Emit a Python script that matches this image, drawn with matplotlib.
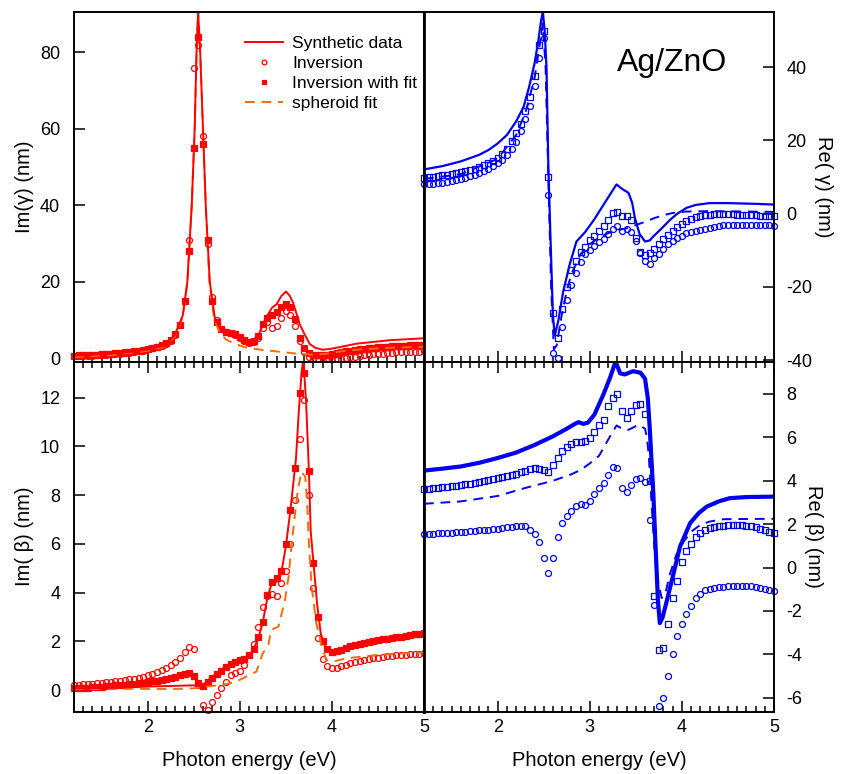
import numpy as np
import matplotlib.pyplot as plt
from matplotlib.ticker import MultipleLocator

plt.rcParams['font.family'] = ['Liberation Sans', 'DejaVu Sans']
plt.rcParams['axes.unicode_minus'] = False

# photon energy grid of the inversion points (eV)
energy = np.round(np.arange(1.2, 5.0001, 0.05), 2)

# ---- Im(gamma), nm ----
im_g_inv = [0.6, 0.65, 0.7, 0.75, 0.8, 0.85, 0.9, 1.0, 1.1, 1.2,
            1.3, 1.4, 1.55, 1.7, 1.9, 2.1, 2.4, 2.7, 3.0, 3.4,
            3.9, 4.7, 6.2, 8.9, 15.0, 31.0, 76.0, 82.0, 58.0, 30.0,
            16.0, 10.0, 7.8, 7.0, 6.6, 6.1, 5.4, 4.6, 4.1, 4.3,
            5.5, 8.0, 9.5, 8.0, 8.6, 10.5, 12.3, 11.5, 8.6, 4.5,
            1.8, 0.3, -0.3, -0.6, -0.7, -0.6, -0.5, -0.3, -0.1, 0.1,
            0.3, 0.5, 0.7, 0.85, 1.0, 1.1, 1.2, 1.3, 1.4, 1.5,
            1.6, 1.65, 1.7, 1.75, 1.8, 1.85, 1.9]
im_g_fit = [0.8, 0.85, 0.9, 0.95, 1.0, 1.05, 1.1, 1.2, 1.3, 1.4,
            1.5, 1.6, 1.75, 1.9, 2.1, 2.3, 2.5, 2.8, 3.1, 3.5,
            4.0, 4.8, 6.3, 8.8, 15.0, 28.0, 55.0, 84.0, 56.0, 31.0,
            15.0, 9.5, 7.6, 7.0, 6.7, 6.3, 5.6, 4.8, 4.3, 4.5,
            5.8, 9.0, 10.5, 11.5, 12.2, 13.5, 14.3, 13.5, 10.4, 5.5,
            2.8, 1.4, 1.0, 0.9, 0.9, 1.0, 1.2, 1.4, 1.7, 1.9,
            2.1, 2.3, 2.4, 2.55, 2.7, 2.8, 2.9, 3.0, 3.1, 3.2,
            3.3, 3.35, 3.4, 3.45, 3.5, 3.55, 3.6]
im_g_syn_e = [1.2, 1.5, 1.8, 2.0, 2.17, 2.29, 2.38, 2.43, 2.478, 2.51, 2.53, 2.547,
              2.57, 2.6, 2.63, 2.674, 2.73, 2.8, 2.88, 2.96, 3.03, 3.11, 3.2, 3.28,
              3.35, 3.4, 3.45, 3.5, 3.54, 3.58, 3.65, 3.7, 3.76, 3.82, 3.9, 4.0,
              4.27, 4.63, 5.0]
im_g_syn = [0.8, 1.1, 1.7, 2.4, 3.3, 6.0, 11.2, 20.0, 40.0, 60.0, 80.0, 90.6,
            80.0, 60.0, 40.0, 20.0, 10.4, 7.6, 6.8, 6.3, 5.2, 4.2, 6.0, 10.5,
            13.3, 14.2, 16.3, 17.5, 16.5, 14.5, 9.0, 6.5, 3.8, 2.8, 2.3, 2.6,
            3.9, 4.8, 5.3]
im_g_sph_e = [1.2, 1.6, 2.0, 2.17, 2.29, 2.38, 2.43, 2.478, 2.51, 2.53, 2.547, 2.57,
              2.6, 2.63, 2.67, 2.72, 2.78, 2.85, 2.95, 3.05, 3.2, 3.35, 3.5, 3.65,
              3.8, 3.95, 4.1, 4.3, 4.6, 5.0]
im_g_sph = [0.4, 0.9, 2.0, 3.0, 5.6, 10.8, 19.5, 40.0, 60.0, 80.0, 90.5, 80.0,
            60.0, 40.0, 20.0, 10.5, 6.8, 5.0, 3.8, 3.0, 2.4, 2.0, 1.6, 1.2,
            1.0, 1.3, 1.9, 2.4, 2.8, 3.1]

# ---- Re(gamma), nm ----
re_g_inv = [8.0, 8.1, 8.2, 8.4, 8.5, 8.7, 8.9, 9.2, 9.5, 9.8,
            10.3, 10.7, 11.2, 11.7, 12.3, 13.0, 13.8, 14.8, 16.0, 17.6,
            19.6, 22.5, 26.0, 29.5, 35.0, 42.5, 48.0, 5.0, -38.0, -39.5,
            -31.0, -23.5, -19.5, -16.3, -13.3, -11.0, -9.8, -8.8, -7.8, -6.9,
            -5.6, -4.3, -3.3, -4.8, -4.3, -5.0, -7.5, -10.8, -13.0, -13.8,
            -12.2, -10.9, -9.5, -8.3, -7.4, -6.7, -6.0, -5.4, -5.0, -4.8,
            -4.4, -4.1, -3.8, -3.5, -3.3, -3.1, -3.0, -3.0, -3.0, -3.0,
            -3.0, -3.0, -3.0, -3.1, -3.1, -3.2, -3.3]
re_g_fit = [9.8, 10.0, 10.1, 10.3, 10.5, 10.6, 10.8, 11.0, 11.3, 11.6,
            11.9, 12.3, 12.7, 13.2, 13.8, 14.5, 15.3, 16.4, 17.8, 19.8,
            22.0, 24.5, 28.0, 32.0, 37.5, 46.0, 50.0, 10.0, -27.0, -34.0,
            -26.0, -20.0, -15.5, -13.0, -10.5, -9.0, -7.3, -6.0, -4.7, -3.4,
            -1.7, 0.2, 0.6, -0.5, -0.7, -1.8, -6.5, -10.4, -11.3, -10.6,
            -9.7, -8.3, -7.0, -5.8, -4.7, -3.7, -2.8, -2.0, -1.4, -0.9,
            -0.6, -0.4, -0.3, -0.2, -0.2, -0.2, -0.2, -0.2, -0.3, -0.3,
            -0.3, -0.4, -0.4, -0.5, -0.5, -0.6, -0.7]
re_g_syn_e = [1.2, 1.4, 1.6, 1.8, 1.9, 2.0, 2.1, 2.2, 2.28, 2.34, 2.4, 2.44, 2.47,
              2.49, 2.51, 2.53, 2.55, 2.57, 2.6, 2.62, 2.66, 2.71, 2.78, 2.855, 2.95,
              3.05, 3.15, 3.29, 3.35, 3.42, 3.46, 3.49, 3.54, 3.6, 3.65, 3.69, 3.78,
              3.87, 3.95, 4.05, 4.15, 4.3, 4.5, 4.8, 5.0]
re_g_syn = [12.1, 13.0, 14.3, 16.1, 17.4, 19.2, 21.5, 25.2, 29.1, 34.5, 41.0, 47.0, 52.5,
            55.2, 50.0, 40.0, 13.0, -4.0, -28.0, -33.3, -29.0, -21.4, -14.0, -7.6, -5.0,
            -1.5, 2.5, 8.0, 6.8, 5.7, 3.0, -1.2, -5.5, -7.6, -7.3, -6.2, -4.0,
            -1.7, 0.0, 1.6, 2.4, 2.9, 2.9, 2.7, 2.5]
re_g_sph_e = [1.2, 1.6, 2.0, 2.2, 2.3, 2.4, 2.45, 2.49, 2.52, 2.55, 2.58, 2.61, 2.64,
              2.7, 2.75, 2.8, 2.9, 3.0, 3.1, 3.2, 3.3, 3.4, 3.5, 3.6, 3.7, 3.8, 3.9,
              4.05, 4.3, 4.7, 5.0]
re_g_sph = [9.5, 10.8, 15.0, 21.5, 27.5, 37.0, 45.0, 52.0, 40.0, 10.0, -20.0, -37.0, -36.0,
            -27.0, -21.0, -16.5, -11.0, -8.3, -6.5, -5.3, -4.5, -4.0, -3.1, -2.2, -1.2, -0.4, 0.2,
            0.6, 0.7, 0.6, 0.5]

# ---- Im(beta), nm ----
im_b_inv = [0.22, 0.23, 0.24, 0.25, 0.27, 0.29, 0.31, 0.33, 0.35, 0.37,
            0.39, 0.42, 0.45, 0.48, 0.52, 0.56, 0.61, 0.67, 0.74, 0.83,
            0.93, 1.05, 1.17, 1.33, 1.55, 1.78, 1.7, 0.2, -0.6, -0.8,
            -0.5, -0.19, 0.08, 0.35, 0.63, 0.72, 0.8, 1.04, 1.45, 1.9,
            2.6, 3.4, 3.85, 3.95, 3.85, 4.4, 4.9, 6.0, 7.8, 10.3,
            11.9, 8.0, 4.2, 2.13, 1.3, 1.0, 0.9, 0.93, 0.98, 1.05,
            1.12, 1.17, 1.21, 1.25, 1.28, 1.31, 1.34, 1.37, 1.39, 1.41,
            1.43, 1.44, 1.46, 1.47, 1.49, 1.5, 1.52]
im_b_fit = [0.08, 0.09, 0.10, 0.11, 0.12, 0.13, 0.14, 0.16, 0.18, 0.20,
            0.21, 0.23, 0.25, 0.27, 0.29, 0.31, 0.33, 0.36, 0.39, 0.42,
            0.46, 0.5, 0.55, 0.61, 0.67, 0.7, 0.6, 0.3, 0.18, 0.35,
            0.5, 0.68, 0.8, 0.95, 1.08, 1.15, 1.22, 1.3, 1.45, 1.7,
            2.2, 2.8, 3.9, 4.45, 4.6, 4.9, 6.0, 7.4, 9.1, 12.2,
            13.0, 9.0, 5.2, 3.0, 2.0, 1.7, 1.58, 1.6, 1.66, 1.72,
            1.8, 1.86, 1.9, 1.95, 1.99, 2.03, 2.06, 2.09, 2.12, 2.14,
            2.17, 2.2, 2.23, 2.26, 2.29, 2.32, 2.34]
im_b_syn_e = [1.2, 1.6, 2.0, 2.3, 2.5, 2.58, 2.65, 2.75, 2.85, 2.95, 3.05, 3.13, 3.2,
              3.25, 3.3, 3.34, 3.4, 3.45, 3.5, 3.54, 3.57, 3.61, 3.64, 3.67, 3.69,
              3.72, 3.75, 3.77, 3.81, 3.84, 3.88, 3.93, 4.01, 4.23, 4.59, 5.0]
im_b_syn = [0.08, 0.1, 0.15, 0.18, 0.2, 0.15, 0.4, 0.7, 1.0, 1.12, 1.25, 1.55, 2.1,
            2.8, 3.8, 4.3, 4.45, 4.8, 5.9, 7.1, 8.1, 9.5, 11.4, 13.0, 13.6,
            11.8, 9.0, 6.5, 4.8, 3.5, 2.3, 1.8, 1.58, 1.86, 2.13, 2.35]
im_b_sph_e = [1.2, 1.8, 2.28, 2.5, 2.64, 2.82, 2.96, 3.07, 3.18, 3.25, 3.31, 3.34,
              3.42, 3.49, 3.53, 3.56, 3.6, 3.63, 3.67, 3.71, 3.73, 3.75, 3.78, 3.83,
              3.89, 3.94, 4.01, 4.16, 4.5, 5.0]
im_b_sph = [0.04, 0.06, 0.05, 0.08, 0.15, 0.22, 0.35, 0.56, 0.76, 1.52, 1.86, 2.47,
            2.61, 3.7, 4.66, 5.89, 7.25, 8.21, 8.96, 8.75, 7.8, 6.02, 4.25, 2.75,
            1.79, 1.24, 1.17, 1.31, 1.45, 1.55]

# ---- Re(beta), nm ----
re_b_inv = [1.55, 1.56, 1.57, 1.58, 1.59, 1.60, 1.61, 1.62, 1.63, 1.65,
            1.67, 1.69, 1.71, 1.73, 1.75, 1.77, 1.80, 1.83, 1.86, 1.88,
            1.9, 1.92, 1.9, 1.75, 1.55, 1.2, 0.45, -0.23, 0.45, 1.4,
            2.05, 2.4, 2.62, 2.85, 2.92, 2.9, 3.05, 3.4, 3.65, 3.9,
            4.27, 4.65, 4.58, 3.66, 3.5, 3.8, 4.08, 4.12, 3.96, 2.2,
            -1.72, -6.4, -6.0, -5.0, -4.0, -3.15, -2.62, -2.15, -1.75, -1.4,
            -1.2, -1.05, -0.98, -0.93, -0.9, -0.88, -0.86, -0.84, -0.83, -0.83,
            -0.84, -0.86, -0.88, -0.92, -0.97, -1.03, -1.1]
re_b_fit = [3.61, 3.64, 3.67, 3.69, 3.71, 3.73, 3.75, 3.77, 3.80, 3.83,
            3.86, 3.90, 3.94, 3.98, 4.02, 4.06, 4.11, 4.16, 4.21, 4.27,
            4.33, 4.40, 4.47, 4.53, 4.58, 4.56, 4.50, 4.40, 4.75, 5.05,
            5.35, 5.55, 5.70, 5.77, 5.80, 5.83, 5.95, 6.25, 6.55, 6.8,
            7.45, 7.8, 8.0, 7.2, 6.9, 7.2, 7.5, 7.55, 7.1, 4.0,
            -1.3, -3.8, -3.7, -2.6, -1.4, -0.6, 0.25, 0.75, 1.1, 1.4,
            1.6, 1.72, 1.82, 1.87, 1.91, 1.93, 1.94, 1.95, 1.95, 1.95,
            1.93, 1.9, 1.85, 1.8, 1.73, 1.66, 1.58]
re_b_syn_e = [1.2, 1.4, 1.6, 1.8, 2.0, 2.2, 2.4, 2.6, 2.75, 2.85, 2.88, 2.93, 2.98,
              3.05, 3.15, 3.22, 3.28, 3.33, 3.38, 3.47, 3.55, 3.6, 3.63, 3.65, 3.69,
              3.72, 3.74, 3.76, 3.79, 3.83, 3.91, 3.98, 4.09, 4.18, 4.27, 4.4, 4.52,
              4.7, 5.0]
re_b_syn = [4.47, 4.56, 4.66, 4.83, 5.05, 5.3, 5.65, 6.05, 6.4, 6.65, 6.7, 6.62, 6.68,
            7.05, 8.0, 8.75, 9.5, 8.95, 8.9, 9.05, 8.98, 8.7, 7.8, 6.5, 3.4,
            0.4, -1.5, -2.56, -2.3, -1.64, -0.26, 0.97, 2.05, 2.5, 2.81, 3.05, 3.2,
            3.25, 3.27]
re_b_sph_e = [1.2, 1.6, 2.0, 2.3, 2.6, 2.8, 2.9, 3.0, 3.1, 3.2, 3.29, 3.35, 3.42,
              3.53, 3.6, 3.62, 3.64, 3.67, 3.7, 3.74, 3.78, 3.82, 3.87, 3.94, 4.02,
              4.1, 4.2, 4.3, 4.45, 5.0]
re_b_sph = [2.94, 3.05, 3.3, 3.67, 4.0, 4.3, 4.5, 4.8, 5.15, 5.9, 6.55, 6.4, 6.35,
            6.58, 6.4, 6.0, 5.2, 3.0, 1.0, -0.6, -1.4, -1.2, -0.3, 0.6, 1.2,
            1.65, 1.97, 2.12, 2.23, 2.25]

RED = '#ff0000'
ORANGE = '#ff6a00'
BLUE = '#0000ee'

fig, axes = plt.subplots(2, 2, figsize=(8.51, 7.74), dpi=100)
fig.subplots_adjust(left=0.087, right=0.9095, top=0.985, bottom=0.0805,
                    wspace=0, hspace=0)
ax_ig, ax_rg = axes[0]
ax_ib, ax_rb = axes[1]


def draw(ax, inv, fit, syn_e, syn, sph_e, sph, color, dash_color,
         filled, lw):
    ax.plot(energy, inv, 'o', ms=4.3, mfc='none', mec=color, mew=0.9,
            clip_on=False, label='Inversion')
    ax.plot(energy, fit, 's', ms=4.0, mfc=color if filled else 'none',
            mec=color, mew=0.9, clip_on=False, label='Inversion with fit')
    ax.plot(sph_e, sph, '--', color=dash_color, lw=1.4, dashes=(5, 3.5),
            label='spheroid fit')
    ax.plot(syn_e, syn, '-', color=color, lw=lw, label='Synthetic data')


draw(ax_ig, im_g_inv, im_g_fit, im_g_syn_e, im_g_syn, im_g_sph_e, im_g_sph,
     RED, ORANGE, True, 1.4)
draw(ax_rg, re_g_inv, re_g_fit, re_g_syn_e, re_g_syn, re_g_sph_e, re_g_sph,
     BLUE, BLUE, False, 1.6)
draw(ax_ib, im_b_inv, im_b_fit, im_b_syn_e, im_b_syn, im_b_sph_e, im_b_sph,
     RED, ORANGE, True, 1.4)
draw(ax_rb, re_b_inv, re_b_fit, re_b_syn_e, re_b_syn, re_b_sph_e, re_b_sph,
     BLUE, BLUE, False, 3.0)

ax_ig.set_ylim(-0.8, 90.6)
ax_rg.set_ylim(-40.4, 55.2)
ax_ib.set_ylim(-0.88, 13.47)
ax_rb.set_ylim(-6.64, 9.49)

ax_ig.set_yticks([0, 20, 40, 60, 80])
ax_rg.set_yticks([-40, -20, 0, 20, 40])
ax_ib.set_yticks([0, 2, 4, 6, 8, 10, 12])
ax_rb.set_yticks([-6, -4, -2, 0, 2, 4, 6, 8])

for ax in axes.flat:
    ax.set_xlim(1.2, 5.0)
    ax.xaxis.set_major_locator(MultipleLocator(1))
    ax.xaxis.set_minor_locator(MultipleLocator(0.1))
    ax.tick_params(which='both', direction='in', width=1.1, labelsize=13)
    ax.tick_params(which='major', length=8)
    ax.tick_params(which='minor', length=4)
    ax.tick_params(axis='y', pad=10)
    ax.tick_params(axis='x', pad=5)
    for s in ax.spines.values():
        s.set_linewidth(1.4)

# the shared vertical border between the columns is drawn twice, thicker
for ax in (ax_ig, ax_ib):
    ax.spines['right'].set_linewidth(2.0)
for ax in (ax_rg, ax_rb):
    ax.spines['left'].set_linewidth(2.0)

for ax in (ax_ig, ax_rg):
    ax.tick_params(axis='x', which='both', bottom=True, top=False,
                   labelbottom=False)
for ax in (ax_ib, ax_rb):
    ax.tick_params(axis='x', which='both', bottom=True, top=True)
    ax.set_xlabel('Photon energy (eV)', fontsize=14.5, labelpad=11)

for ax in (ax_rg, ax_rb):
    ax.yaxis.tick_right()
    ax.yaxis.set_label_position('right')
    ax.tick_params(axis='y', left=False, right=True, pad=9)

ax_ig.set_ylabel('Im(γ) (nm)', fontsize=14.5, labelpad=4)
ax_ib.set_ylabel('Im( β) (nm)', fontsize=14.5, labelpad=4)
ax_rg.set_ylabel('Re( γ) (nm)', fontsize=14.5, rotation=270, labelpad=15)
ax_rb.set_ylabel('Re( β) (nm)', fontsize=14.5, rotation=270, labelpad=15)

ax_rg.text(0.71, 0.852, 'Ag/ZnO', transform=ax_rg.transAxes, fontsize=23,
           ha='center', va='center')

h, l = ax_ig.get_legend_handles_labels()
order = [3, 0, 1, 2]
ax_ig.legend([h[i] for i in order], [l[i] for i in order], loc='upper right',
             bbox_to_anchor=(1.01, 0.96), frameon=False, fontsize=12.5,
             handlelength=2.2, handletextpad=0.5, labelspacing=0.28,
             markerscale=0.8, borderaxespad=0.2)

fig.savefig('out.png', dpi=100)
